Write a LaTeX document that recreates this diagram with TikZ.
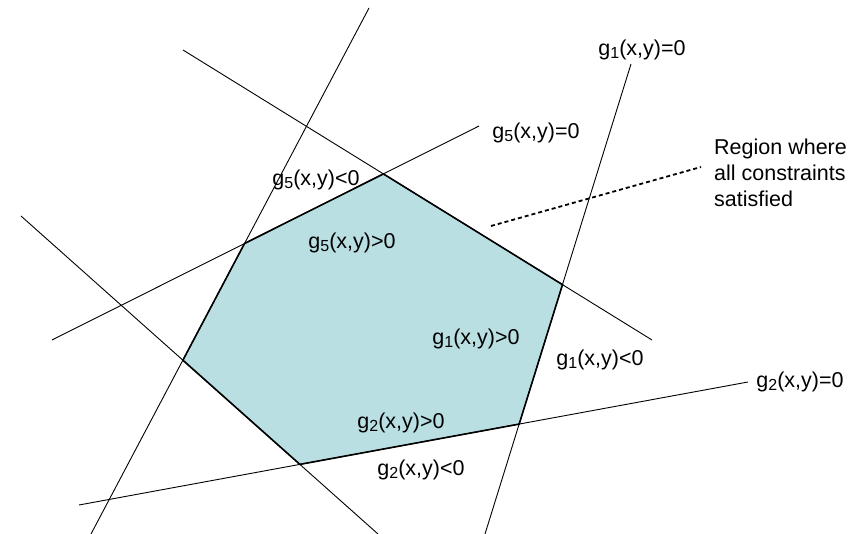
\documentclass[tikz,border=0pt]{standalone}
\usepackage{fontspec}
\setmainfont{Liberation Sans}
\usepackage{tikz}
\usetikzlibrary{positioning,calc}

\definecolor{feasblue}{RGB}{185,223,227}
\newcommand{\gsub}[1]{g\raisebox{-2.5pt}{\fontsize{16}{16}\selectfont #1}}

\begin{document}
\begin{tikzpicture}[x=1pt,y=-1pt,
  constraint/.style={line width=0.9pt},
  boundary/.style={line width=1.6pt,line join=miter},
  lbl/.style={font=\fontsize{21.5}{26}\selectfont,inner sep=0pt},
  pointer/.style={line width=1.8pt,dash pattern=on 4pt off 3pt}]

\useasboundingbox (0,0) rectangle (865,534);

% ============ Constraint lines: end points ============
\coordinate (c1a) at (631,64);  \coordinate (c1b) at (485,534);
\coordinate (c2a) at (79,505);  \coordinate (c2b) at (748,382);
\coordinate (c3a) at (21,216);  \coordinate (c3b) at (378,534);
\coordinate (c4a) at (369,8);   \coordinate (c4b) at (91,534);
\coordinate (c5a) at (52,340);  \coordinate (c5b) at (479,126);
\coordinate (c6a) at (183,50);  \coordinate (c6b) at (652,340);

% ============ Corners of the feasible region ============
\coordinate (p1) at (intersection of c5a--c5b and c6a--c6b);
\coordinate (p2) at (intersection of c6a--c6b and c1a--c1b);
\coordinate (p3) at (intersection of c1a--c1b and c2a--c2b);
\coordinate (p4) at (intersection of c2a--c2b and c3a--c3b);
\coordinate (p5) at (intersection of c3a--c3b and c4a--c4b);
\coordinate (p6) at (intersection of c4a--c4b and c5a--c5b);

% region (fill first, lines on top)
\fill[feasblue] (p1) -- (p2) -- (p3) -- (p4) -- (p5) -- (p6) -- cycle;

\draw[constraint] (c1a) -- (c1b);
\draw[constraint] (c2a) -- (c2b);
\draw[constraint] (c3a) -- (c3b);
\draw[constraint] (c4a) -- (c4b);
\draw[constraint] (c5a) -- (c5b);
\draw[constraint] (c6a) -- (c6b);

\draw[boundary] (p1) -- (p2) -- (p3) -- (p4) -- (p5) -- (p6) -- cycle;

% ============ Labels ============
\node[lbl] (g1zero) at (642,50)  {\gsub{1}(x,y)=0};
\node[lbl] (g5zero) at (536,133) {\gsub{5}(x,y)=0};
\node[lbl] (g2zero) at (800,382) {\gsub{2}(x,y)=0};
\node[lbl] (g5neg)  at (316,180) {\gsub{5}(x,y)<0};
\node[lbl] (g5pos)  at (352,243) {\gsub{5}(x,y)>0};
\node[lbl] (g1pos)  at (476,339) {\gsub{1}(x,y)>0};
\node[lbl] (g1neg)  at (600,360) {\gsub{1}(x,y)<0};
\node[lbl] (g2pos)  at (401,423) {\gsub{2}(x,y)>0};
\node[lbl] (g2neg)  at (421,470) {\gsub{2}(x,y)<0};

\node[lbl,align=left,anchor=west] (region) at (714,173)
  {Region where\\all constraints\\satisfied};
\coordinate (tail) at (491,226);
\draw[pointer] (tail) -- ([shift={(-13,-6)}]region.west);

\end{tikzpicture}
\end{document}
